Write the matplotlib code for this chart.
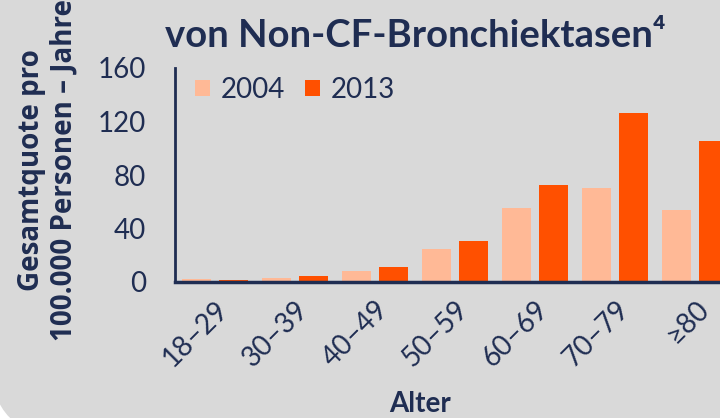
import matplotlib
matplotlib.use('Agg')
import matplotlib.pyplot as plt
import numpy as np
from matplotlib.patches import FancyBboxPatch

# data
categories = ['18–29', '30–39', '40–49', '50–59', '60–69', '70–79', '≥80']
rate_2004 = [2, 3, 8, 25, 55, 70, 54]
rate_2013 = [1.5, 4.5, 11, 31, 72.5, 126, 105.5]
series_labels = ['2004', '2013']
yticks = [0, 40, 80, 120, 160]

navy = '#1f2d52'
panel = '#d9d9d9'
c2004 = '#ffb996'
c2013 = '#ff5000'

plt.rcParams['font.family'] = ['Lato', 'DejaVu Sans']

fig = plt.figure(figsize=(7.2, 4.18), dpi=100, facecolor='white')

# gray panel with rounded bottom-left corner
bg = FancyBboxPatch((-10, -20), 1000, 700, boxstyle='round,pad=0,rounding_size=80',
                    transform=None, facecolor=panel, edgecolor='none', zorder=-5)
fig.patches.append(bg)

ax = fig.add_axes([175 / 720, 136 / 418, 545 / 720, 214 / 418])
ax.set_facecolor('none')

x = np.arange(len(categories))
w = 0.36
off = 0.23
ax.bar(x - off, rate_2004, w, color=c2004, label=series_labels[0], zorder=2)
ax.bar(x + off, rate_2013, w, color=c2013, label=series_labels[1], zorder=2)

ax.set_xlim(-0.5, 6.31)
ax.set_ylim(0, 160)
ax.set_yticks(yticks)
ax.set_xticks(x)
ax.set_xticklabels(categories, rotation=45, ha='right', rotation_mode='anchor')

for s in ['top', 'right']:
    ax.spines[s].set_visible(False)
ax.spines['left'].set_color(navy)
ax.spines['left'].set_linewidth(2)
ax.spines['bottom'].set_color(navy)
ax.spines['bottom'].set_linewidth(2.5)

ax.tick_params(axis='y', length=0, pad=21, labelsize=20, labelcolor=navy)
ax.tick_params(axis='x', length=0, pad=10, labelsize=20, labelcolor=navy)

leg = ax.legend(loc='upper left', bbox_to_anchor=(-0.01, 1.075), ncol=2, frameon=False,
                fontsize=20, labelcolor=navy, handlelength=0.55, handleheight=0.55,
                handletextpad=0.4, columnspacing=0.7)

fig.text(415 / 720, 1 - 36 / 418, 'von Non-CF-Bronchiektasen⁴', ha='center', va='center',
         fontsize=27.5, fontweight='bold', color=navy)

fig.text(48 / 720, 1 - 170 / 418, 'Gesamtquote pro\n100.000 Personen – Jahre', rotation=90,
         ha='center', va='center', multialignment='center', fontsize=20, fontweight='bold',
         color=navy, family=['Open Sans', 'DejaVu Sans'], linespacing=1.15)

fig.text(420 / 720, 1 - 404 / 418, 'Alter', ha='center', va='center',
         fontsize=20, fontweight='bold', color=navy)

plt.savefig('out.png', dpi=100, facecolor=fig.get_facecolor())
